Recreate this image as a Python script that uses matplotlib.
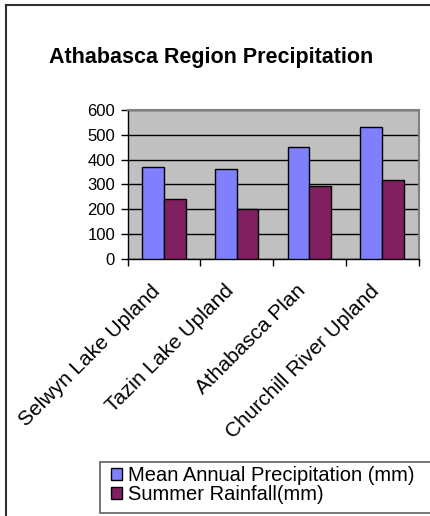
import matplotlib
matplotlib.use("Agg")
import matplotlib.pyplot as plt
from matplotlib.patches import Rectangle
from matplotlib.lines import Line2D
from matplotlib.transforms import ScaledTranslation
import numpy as np

plt.rcParams['font.family'] = ['Liberation Sans', 'DejaVu Sans']

regions = ["Selwyn Lake Upland", "Tazin Lake Upland", "Athabasca Plan", "Churchill River Upland"]
mean_annual = [370, 363, 453, 530]
summer_rain = [240, 200, 293, 318]
series_names = ["Mean Annual Precipitation (mm)", "Summer Rainfall(mm)"]
y_ticks = [0, 100, 200, 300, 400, 500, 600]

W, H = 430, 516
fig = plt.figure(figsize=(W / 100, H / 100), dpi=100)
fig.patch.set_facecolor("white")

def fx(px):
    return px / W

def fy(py):
    return 1 - py / H

ax = fig.add_axes([fx(127.5), fy(259), fx(418.5) - fx(127.5), fy(110) - fy(259)])
ax.set_facecolor("#C0C0C0")

x = np.arange(len(regions))
bw = 0.3
b1 = ax.bar(x - bw / 2, mean_annual, bw, color="#8080FF", edgecolor="black", linewidth=1.0,
            label=series_names[0], zorder=3)
b2 = ax.bar(x + bw / 2, summer_rain, bw, color="#802060", edgecolor="black", linewidth=1.0,
            label=series_names[1], zorder=3)

ax.set_xlim(-0.5, len(regions) - 0.5)
ax.set_ylim(0, 600)
ax.set_yticks(y_ticks)
ax.set_yticklabels([str(v) for v in y_ticks], fontsize=12)
ax.yaxis.grid(True, color="black", linewidth=1.0, zorder=1)
ax.set_axisbelow(True)

# category boundaries carry the tick marks, centres carry the labels
ax.set_xticks(np.arange(-0.5, len(regions)), minor=False)
ax.set_xticklabels([])
ax.set_xticks(x, minor=True)
ax.set_xticklabels(regions, minor=True, rotation=45, ha="right", va="top",
                   rotation_mode="anchor", fontsize=15)
ax.tick_params(axis="x", which="minor", length=0, pad=16)
ax.tick_params(axis="x", which="major", length=5, width=1, color="black", direction="out")
ax.tick_params(axis="y", length=5, width=1, color="black", direction="out", pad=4)
offset = ScaledTranslation(-13 / 100, 0, fig.dpi_scale_trans)
for lbl in ax.get_xticklabels(minor=True):
    lbl.set_transform(lbl.get_transform() + offset)

for side in ["top", "right"]:
    ax.spines[side].set_color("#808080")
    ax.spines[side].set_linewidth(1.5)
for side in ["left", "bottom"]:
    ax.spines[side].set_color("black")
    ax.spines[side].set_linewidth(1.0)

fig.text(fx(211), fy(57), "Athabasca Region Precipitation", ha="center", va="center",
         fontsize=15.5, fontweight="bold")

# legend box running off the right edge
fig.patches.append(Rectangle((fx(100), fy(512.5)), fx(345), fy(461.5) - fy(512.5),
                             transform=fig.transFigure, facecolor="white",
                             edgecolor="#606060", linewidth=1.2, zorder=0))
leg = fig.legend(handles=[b1, b2], labels=series_names, loc="upper left",
                 bbox_to_anchor=(fx(111), fy(466)), frameon=False, fontsize=14.5,
                 handlelength=0.55, handleheight=0.55, handletextpad=0.3,
                 labelspacing=0.0, borderpad=0, borderaxespad=0)

# outer chart border (top and left visible)
fig.add_artist(Line2D([fx(6), fx(6)], [fy(5), 0], transform=fig.transFigure,
                      color="#303030", linewidth=1.5))
fig.add_artist(Line2D([fx(6), 1], [fy(5), fy(5)], transform=fig.transFigure,
                      color="#303030", linewidth=1.5))

fig.savefig("out.png", dpi=100)
